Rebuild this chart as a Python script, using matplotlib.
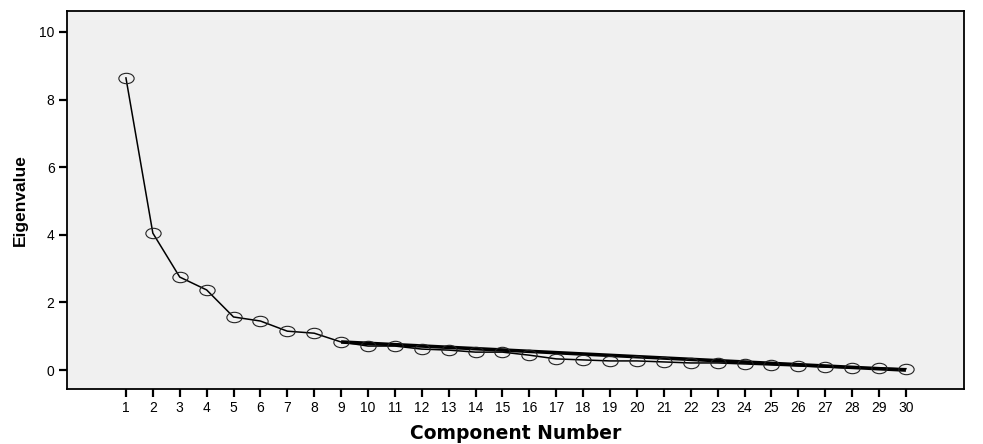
import numpy as np
import matplotlib.pyplot as plt
from matplotlib.path import Path

components = list(range(1, 31))
eigenvalues = [8.64, 4.05, 2.75, 2.37, 1.57, 1.45, 1.15, 1.09, 0.83, 0.71,
               0.71, 0.62, 0.59, 0.53, 0.53, 0.44, 0.33, 0.30, 0.27, 0.27,
               0.24, 0.21, 0.21, 0.18, 0.15, 0.12, 0.09, 0.06, 0.06, 0.04]
trend_x = [9, 30]
trend_y = [0.83, 0.0]
yticks = [0, 2, 4, 6, 8, 10]

plt.rcParams['font.family'] = ['Liberation Sans', 'DejaVu Sans']

# flattened circle, like the SPSS marker
circ = Path.unit_circle()
oval = Path(circ.vertices * np.array([1.0, 0.68]), circ.codes)

fig = plt.figure(figsize=(9.83, 4.44), dpi=100)
ax = fig.add_axes([0.0682, 0.1239, 0.9125, 0.8514])
ax.set_facecolor('#f0f0f0')

ax.plot(trend_x, trend_y, color='black', lw=2.6, solid_capstyle='butt', zorder=3)
ax.plot(components, eigenvalues, color='black', lw=1.1, marker=oval, ms=11,
        mfc='none', mec='#222222', mew=0.8, zorder=4)

ax.set_xlim(-1.19, 32.16)
ax.set_ylim(-0.56, 10.62)
ax.set_xticks(components)
ax.set_yticks(yticks)
ax.tick_params(axis='both', length=6, width=1.6, labelsize=10, colors='black', pad=3)
for s in ax.spines.values():
    s.set_linewidth(1.3)

ax.set_xlabel('Component Number', fontsize=13.5, fontweight='bold',
              family='DejaVu Sans', labelpad=6)
ax.set_ylabel('Eigenvalue', fontsize=12.5, fontweight='bold', labelpad=8)

fig.savefig('out.png', dpi=100, facecolor='white')
